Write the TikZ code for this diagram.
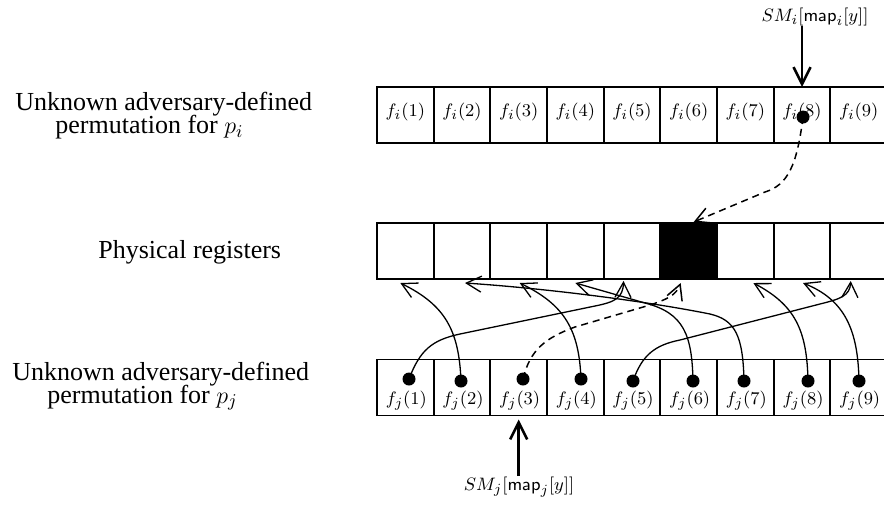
\documentclass[tikz,border=0pt]{standalone}
\usepackage[no-math]{fontspec}
\newfontfamily\tnr{Liberation Serif}
\usetikzlibrary{arrows.meta,calc}
\newcommand\sidefont{\tnr\fontsize{13}{11.6}\selectfont\setlength{\lineskiplimit}{-20pt}}
\begin{document}
\begin{tikzpicture}[x=0.5pt,y=-0.5pt,
  cell/.style={draw, line width=0.9pt, minimum width=28.33pt, minimum height=28pt, inner sep=0pt, outer sep=0pt},
  blackcell/.style={cell, fill=black},
  flabel/.style={inner sep=0pt, anchor=base, font=\fontsize{9.5}{11}\selectfont},
  sidetext/.style={inner sep=0pt, align=left, font=\sidefont},
  dot/.style={circle, fill=black, inner sep=0pt, minimum size=6.5pt},
  link/.style={line width=0.65pt, -{Straight Barb[length=7.5pt,width=8pt]}},
  dlink/.style={link, line width=0.75pt, dash pattern=on 3.5pt off 2.5pt},
  smarrow/.style={line width=1.3pt, -{Straight Barb[length=8.5pt,width=8.5pt]}},
]
\useasboundingbox (0,0) rectangle (884,516);

% side texts
\node[sidetext, anchor=west] (labi) at (15,116) {Unknown adversary-defined\\\hspace*{20pt}permutation for $p_i$};
\node[sidetext, anchor=base west] (labr) at (98,258) {Physical registers};
\node[sidetext, anchor=west] (labj) at (12,386) {Unknown adversary-defined\\\hspace*{17.5pt}permutation for $p_j$};

% rows of cells
\foreach \k in {1,...,9} {
  \node[cell] (ti\k) at ({405.33+56.67*(\k-1)},115) {};
  \node[flabel] (li\k) at ({405.33+56.67*(\k-1)},116) {$f_i(\k)$};
  \node[cell] (tj\k) at ({405.33+56.67*(\k-1)},387.5) {};
  \node[flabel] (lj\k) at ({406.33+56.67*(\k-1)},404) {$f_j(\k)$};
}
\foreach \k in {1,2,3,4,5,7,8,9} {
  \node[cell] (r\k) at ({405.33+56.67*(\k-1)},251) {};
}
\node[blackcell] (r6) at ({405.33+56.67*5},251) {};

% dots
\node[dot] (di8) at (803,117) {};
\node[dot] (dj1) at (409,379) {};
\node[dot] (dj2) at (461,381) {};
\node[dot] (dj3) at (523,379) {};
\node[dot] (dj4) at (581,379) {};
\node[dot] (dj5) at (633,381) {};
\node[dot] (dj6) at (693,381) {};
\node[dot] (dj7) at (744,381) {};
\node[dot] (dj8) at (808,381) {};
\node[dot] (dj9) at (859,381) {};

% connectors
\draw[dlink] (di8.center) .. controls (797,165) and (788,185) .. (765,192) -- ($(r6.north)+(5,-1)$);
\draw[link] (dj1.center) .. controls (420,350) and (432,340) .. (460,334) -- (595,306) .. controls (615,302) and (623,298) .. ($(r5.south)+(-8.5,2)$);
\draw[link] (dj2.center) .. controls (459,330) and (445,305) .. ($(r1.south)+(-5,4)$);
\draw[dlink] (dj3.center) .. controls (530,350) and (545,338) .. (575,327) -- (650,305) .. controls (668,299) and (676,295) .. ($(r6.south)+(-8,4)$);
\draw[link] (dj4.center) .. controls (579,330) and (565,305) .. ($(r3.south)+(1,4)$);
\draw[link] (dj5.center) .. controls (642,355) and (655,345) .. (680,340) -- (820,304) .. controls (840,299) and (850,296) .. ($(r9.south)+(-8,2)$);
\draw[link] (dj6.center) .. controls (692,335) and (684,313) .. (645,303) -- ($(r4.south)+(0,4)$);
\draw[link] (dj7.center) .. controls (743,335) and (735,320) .. (710,314) .. controls (640,300) and (540,288) .. ($(r2.south)+(3,4)$);
\draw[link] (dj8.center) .. controls (807,330) and (795,305) .. ($(r7.south)+(8,4)$);
\draw[link] (dj9.center) .. controls (858,330) and (845,300) .. ($(r8.south)+(1,4)$);

% SM labels and arrows
\node[flabel] (SMi) at (815,21) {$SM_i[\mathsf{map}_i[y]]$};
\node[flabel] (SMj) at (519,490) {$SM_j[\mathsf{map}_j[y]]$};
\draw[smarrow] (SMi.south -| ti8.north) -- (ti8.north);
\draw[smarrow] (SMj.north -| tj3.south) -- ($(tj3.south)+(0,4)$);
\end{tikzpicture}
\end{document}
